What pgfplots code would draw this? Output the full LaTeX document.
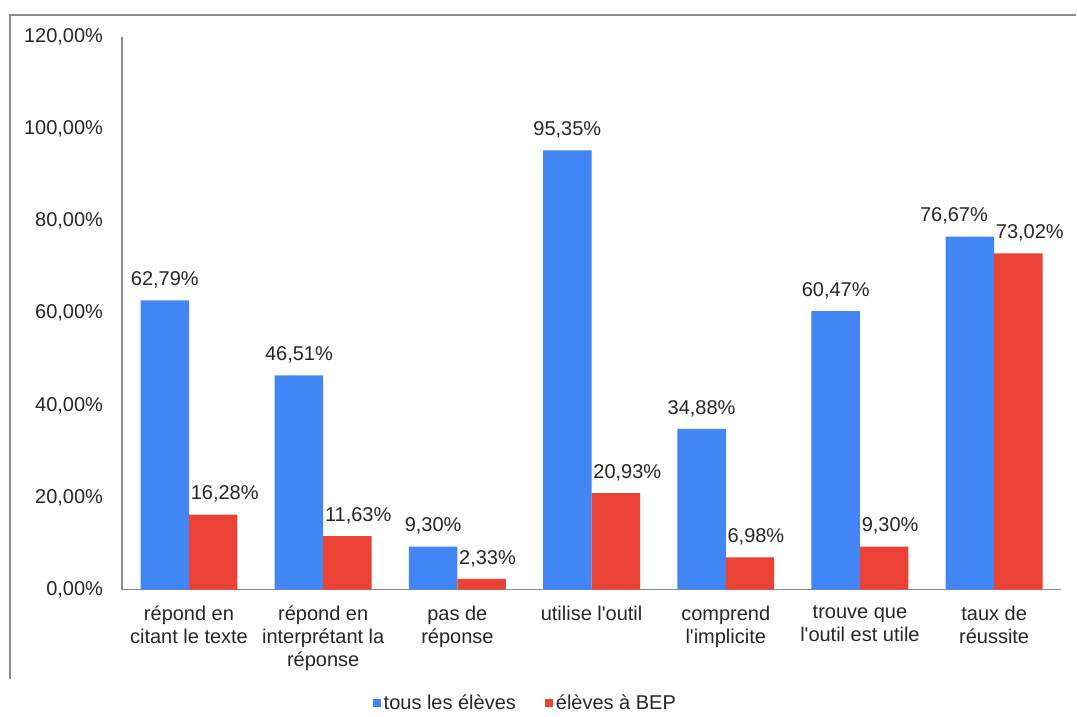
\documentclass[border=0pt]{standalone}
\usepackage{fontspec}
\setmainfont{Liberation Sans}
\usepackage{pgfplots}
\pgfplotsset{compat=1.18}
\definecolor{serieA}{HTML}{4285F4}
\definecolor{serieB}{HTML}{EA4335}
\definecolor{txt}{HTML}{262626}
\definecolor{frame}{HTML}{8C8C8C}

\begin{document}
\begin{tikzpicture}[x=0.75pt,y=0.75pt]
% page and outer frame (1px = 0.75pt)
\path (0,0) rectangle (1077,713);
\draw[frame, line width=1.2pt] (10,33) -- (10,698) -- (1077,698);

\begin{axis}[
    at={(91.5pt,92.25pt)}, anchor=south west,
    scale only axis,
    width=705pt, height=414.75pt,
    ybar=0pt,
    bar width=0.361,
    xmin=-0.5, xmax=6.5,
    ymin=0, ymax=120,
    axis x line*=bottom,
    axis y line*=left,
    axis line style={frame, line width=0.9pt, -},
    major tick length=0pt,
    xtick={0,1,2,3,4,5,6},
    xticklabels={{répond en\\citant le texte},{répond en\\interprétant la\\réponse},{pas de\\réponse},{utilise l\textquotesingle outil},{comprend\\l\textquotesingle implicite},{trouve que\\l\textquotesingle outil est utile},{taux de\\réussite}},
    xticklabel style={align=center, anchor=north, inner sep=0pt, yshift=-12pt},
    ytick={0,20,40,60,80,100,120},
    yticklabels={{0,00\%},{20,00\%},{40,00\%},{60,00\%},{80,00\%},{100,00\%},{120,00\%}},
    yticklabel style={anchor=east, inner sep=0pt, xshift=-14pt},
    font=\fontsize{15}{17.25}\selectfont\color{txt},
    /pgf/number format/assume math mode=true,
    nodes near coords={\pgfmathprintnumber[fixed,fixed zerofill,precision=2,use comma]{\pgfplotspointmeta}\%},
    every node near coord/.append style={inner sep=0pt, yshift=9pt, font=\fontsize{15}{17.25}\selectfont\color{txt}},
    legend columns=2,
    legend style={at={(0.43,-0.205)}, anchor=center, draw=none, fill=none,
        font=\fontsize{15}{17.25}\selectfont\color{txt},
        /tikz/every even column/.append style={column sep=20pt}},
    legend image code/.code={\fill[#1] (0pt,-3pt) rectangle (6pt,3pt);},
]
\addplot[fill=serieA, draw=none,
    visualization depends on={value \coordindex \as \idx},
    every node near coord/.append style={anchor=south, xshift={(\idx==6)*(-12)}}]
    coordinates {
    (0,62.79) (1,46.51) (2,9.30) (3,95.35) (4,34.88) (5,60.47) (6,76.67)
};
\addlegendentry{tous les élèves}
\addplot[fill=serieB, draw=none,
    every node near coord/.append style={anchor=south west, xshift=-17pt}]
    coordinates {
    (0,16.28) (1,11.63) (2,2.33) (3,20.93) (4,6.98) (5,9.30) (6,73.02)
};
\addlegendentry{élèves à BEP}
\end{axis}
\end{tikzpicture}
\end{document}
